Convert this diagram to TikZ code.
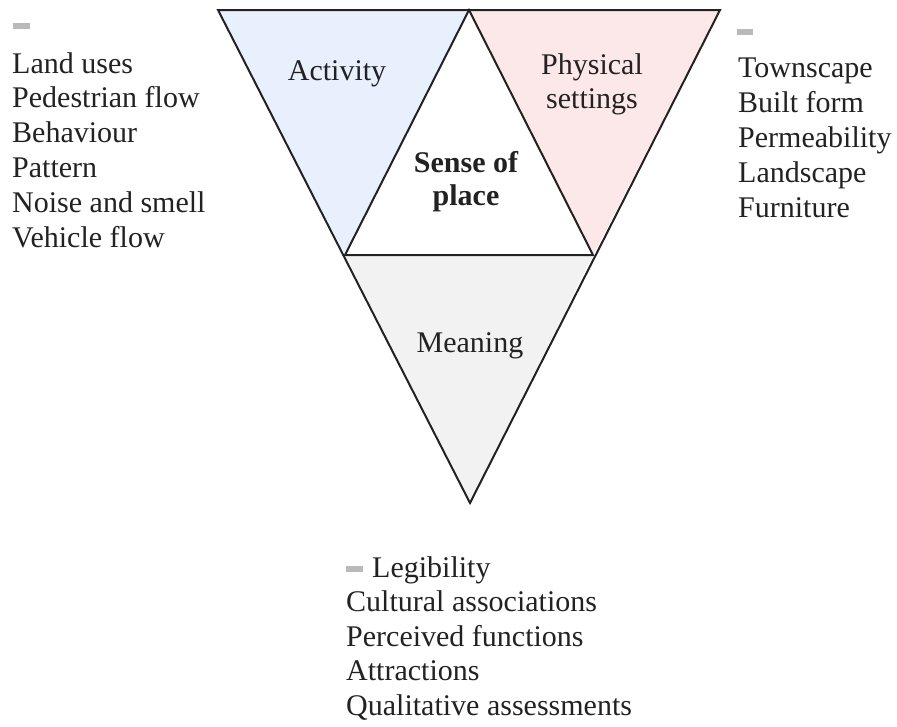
\documentclass[tikz,border=0pt]{standalone}
\usepackage{fontspec}
\setmainfont{Liberation Serif}
\definecolor{actfill}{HTML}{E8F0FD}
\definecolor{phyfill}{HTML}{FCE8E8}
\definecolor{meafill}{HTML}{F2F2F2}
\definecolor{ink}{HTML}{222222}
\begin{document}
\begin{tikzpicture}[x=1pt,y=-1pt,
  edge/.style={draw=ink, line width=2pt, line join=miter},
  item/.style={anchor=base west, inner sep=0pt, text=ink,
    font=\fontsize{30}{34.5}\selectfont},
  label/.style={align=center, inner sep=0pt, text=ink,
    font=\fontsize{30}{34}\selectfont},
  marker/.style={fill=black!27, draw=none}]
  \useasboundingbox (0,0) rectangle (897,726);
  % corners of the four triangles
  \coordinate (tl) at (218,10);
  \coordinate (tm) at (469,10);
  \coordinate (tr) at (720,10);
  \coordinate (bl) at (345,255);
  \coordinate (br) at (593,255);
  \coordinate (bot) at (470,503);
  % filled triangles
  \fill[actfill] (tl) -- (tm) -- (bl) -- cycle;
  \fill[phyfill] (tm) -- (tr) -- (br) -- cycle;
  \fill[meafill] (bl) -- (br) -- (bot) -- cycle;
  % outlines
  \draw[edge] (tl) -- (tr) -- (bot) -- cycle;
  \draw[edge] (bl) -- (tm) -- (br) -- cycle;
  % triangle labels
  \node[label, anchor=base] (activity) at (337,80) {Activity};
  \node[label, anchor=base] (physical) at (592,74) {Physical};
  \node[label, anchor=base] (settings) at (592,108) {settings};
  \node[label, anchor=base, font=\fontsize{30}{34}\selectfont\bfseries] (sense) at (466,172) {Sense of};
  \node[label, anchor=base, font=\fontsize{30}{34}\selectfont\bfseries] (place) at (466,205) {place};
  \node[label, anchor=base] (meaning) at (470,352) {Meaning};
  % activity list
  \fill[marker] (13,23) rectangle (30,29);
  \foreach \t [count=\i from 0] in {Land uses, Pedestrian flow, Behaviour, Pattern, Noise and smell, Vehicle flow}
    \node[item] (act\i) at (12,73+34.8*\i) {\t};
  % physical settings list
  \fill[marker] (737,29) rectangle (753,35);
  \foreach \t [count=\i from 0] in {Townscape, Built form, Permeability, Landscape, Furniture}
    \node[item] (phy\i) at (738,77+35*\i) {\t};
  % meaning list
  \fill[marker] (346,566) rectangle (363,572);
  \node[item] (mea0) at (372,577) {Legibility};
  \foreach \t [count=\i from 1] in {Cultural associations, Perceived functions, Attractions, Qualitative assessments}
    \node[item] (mea\i) at (346,577+34.5*\i) {\t};
\end{tikzpicture}
\end{document}
